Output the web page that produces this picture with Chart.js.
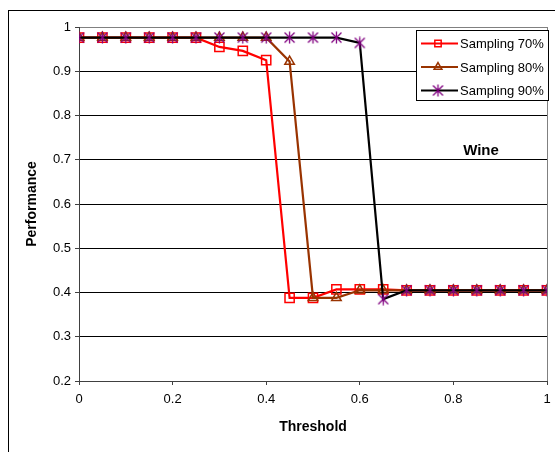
<!DOCTYPE html>
<html>
<head>
<meta charset="utf-8">
<script src="https://cdn.jsdelivr.net/npm/chart.js@4/dist/chart.umd.min.js"></script>
<style>
  html, body { margin: 0; padding: 0; background: #fff; }
  #wrap { width: 555px; height: 452px; position: relative; }
</style>
</head>
<body>
<div id="wrap"><canvas id="perfChart" width="555" height="452"></canvas></div>
<script>
// Data
const thresholds = [0, 0.05, 0.1, 0.15, 0.2, 0.25, 0.3, 0.35, 0.4, 0.45, 0.5,
                    0.55, 0.6, 0.65, 0.7, 0.75, 0.8, 0.85, 0.9, 0.95, 1];
const sampling70 = [0.976, 0.976, 0.976, 0.976, 0.976, 0.976, 0.955, 0.946, 0.925, 0.388, 0.388,
                    0.407, 0.407, 0.407, 0.405, 0.405, 0.405, 0.405, 0.405, 0.405, 0.405];
const sampling80 = [0.976, 0.976, 0.976, 0.976, 0.976, 0.976, 0.976, 0.976, 0.976, 0.922, 0.388,
                    0.388, 0.405, 0.405, 0.405, 0.405, 0.405, 0.405, 0.405, 0.405, 0.405];
const sampling90 = [0.976, 0.976, 0.976, 0.976, 0.976, 0.976, 0.976, 0.976, 0.976, 0.976, 0.976,
                    0.976, 0.964, 0.385, 0.405, 0.405, 0.405, 0.405, 0.405, 0.405, 0.405];
const seriesNames = ['Sampling 70%', 'Sampling 80%', 'Sampling 90%'];
const xTicks = [0, 0.2, 0.4, 0.6, 0.8, 1];
const yTicks = [0.2, 0.3, 0.4, 0.5, 0.6, 0.7, 0.8, 0.9, 1];

const FONT = '"Liberation Sans", Arial, sans-serif';

// Excel-like asterisk marker (X plus vertical stroke)
function makeAsterisk(color) {
    const c = document.createElement('canvas');
    c.width = 13; c.height = 13;
    const g = c.getContext('2d');
    g.strokeStyle = color;
    g.lineWidth = 1.3;
    g.beginPath();
    g.moveTo(1.5, 1.5); g.lineTo(11.5, 11.5);
    g.moveTo(11.5, 1.5); g.lineTo(1.5, 11.5);
    g.moveTo(6.5, 0.5); g.lineTo(6.5, 12.5);
    g.stroke();
    return c;
}
const asterisk = makeAsterisk('#800080');

function toPoints(values) {
    return thresholds.map((t, i) => ({ x: t, y: values[i] }));
}

const seriesStyles = [
    { line: '#ff0000', marker: '#ff0000', style: 'rect', radius: 6.5, order: 3 },
    { line: '#993300', marker: '#993300', style: 'triangle', radius: 5.5, order: 2 },
    { line: '#000000', marker: '#800080', style: asterisk, radius: 6, order: 1 }
];
const seriesValues = [sampling70, sampling80, sampling90];

const datasets = seriesValues.map((vals, i) => ({
    label: seriesNames[i],
    data: toPoints(vals),
    borderColor: seriesStyles[i].line,
    backgroundColor: 'rgba(0,0,0,0)',
    borderWidth: 2.2,
    pointStyle: seriesStyles[i].style,
    pointRadius: seriesStyles[i].radius,
    pointBorderColor: seriesStyles[i].marker,
    pointBackgroundColor: 'rgba(0,0,0,0)',
    pointBorderWidth: 1.5,
    order: seriesStyles[i].order,
    tension: 0
}));

// Frame, legend box and "Wine" label
const decorations = {
    id: 'decorations',
    beforeDraw(chart) {
        const ctx = chart.ctx;
        ctx.save();
        ctx.fillStyle = '#fff';
        ctx.fillRect(0, 0, chart.width, chart.height);
        ctx.strokeStyle = '#000';
        ctx.lineWidth = 1;
        ctx.strokeRect(8.5, 10.5, 600, 500);
        ctx.restore();
    },
    afterDraw(chart) {
        const ctx = chart.ctx;
        ctx.save();
        // legend
        const lx = 416, ly = 30, lw = 132, lh = 70;
        ctx.fillStyle = '#fff';
        ctx.fillRect(lx, ly, lw, lh);
        ctx.strokeStyle = '#000';
        ctx.lineWidth = 1;
        ctx.strokeRect(lx + 0.5, ly + 0.5, lw, lh);
        ctx.font = '13px ' + FONT;
        ctx.textBaseline = 'middle';
        seriesNames.forEach((name, i) => {
            const y = ly + 13.5 + i * 23.5;
            ctx.strokeStyle = seriesStyles[i].line;
            ctx.lineWidth = 2;
            ctx.beginPath();
            ctx.moveTo(lx + 5, y);
            ctx.lineTo(lx + 42, y);
            ctx.stroke();
            ctx.strokeStyle = seriesStyles[i].marker;
            ctx.fillStyle = 'rgba(0,0,0,0)';
            ctx.lineWidth = 1.5;
            Chart.helpers.drawPoint(ctx, {
                pointStyle: seriesStyles[i].style, radius: 4.5, rotation: 0, borderWidth: 1.5
            }, lx + 22, y);
            ctx.fillStyle = '#000';
            ctx.fillText(name, lx + 44, y + 1);
        });
        // dataset label
        ctx.font = 'bold 15px ' + FONT;
        ctx.textAlign = 'center';
        ctx.fillStyle = '#000';
        ctx.fillText('Wine', 481, 151);
        ctx.restore();
    }
};

new Chart(document.getElementById('perfChart'), {
    type: 'line',
    data: { datasets: datasets },
    options: {
        responsive: false,
        animation: false,
        layout: { padding: { top: 27, right: 4, left: 0, bottom: 0 } },
        plugins: {
            legend: { display: false },
            tooltip: { enabled: false }
        },
        scales: {
            x: {
                type: 'linear',
                min: 0,
                max: 1,
                afterFit(scale) {
                    scale.height = 71;
                    scale.paddingRight = 0;
                    scale.paddingLeft = 0;
                },
                afterBuildTicks(scale) { scale.ticks = xTicks.map(v => ({ value: v })); },
                ticks: {
                    color: '#000',
                    font: { family: FONT, size: 13 },
                    padding: 7,
                    maxRotation: 0,
                    callback: v => String(v)
                },
                grid: {
                    color: ctx => (ctx.tick && ctx.tick.value === 1) ? '#808080' : 'rgba(0,0,0,0)',
                    tickColor: '#404040',
                    tickLength: 4,
                    drawOnChartArea: true
                },
                border: { color: '#404040', width: 1 },
                title: {
                    display: true,
                    text: 'Threshold',
                    color: '#000',
                    font: { family: FONT, size: 14, weight: 'bold' },
                    padding: { top: 0, bottom: 16 }
                }
            },
            y: {
                min: 0.2,
                max: 1,
                afterFit(scale) { scale.width = 79; },
                afterBuildTicks(scale) { scale.ticks = yTicks.map(v => ({ value: v })); },
                ticks: {
                    color: '#000',
                    font: { family: FONT, size: 13 },
                    padding: 4,
                    callback: v => String(Math.round(v * 10) / 10)
                },
                grid: {
                    color: ctx => (ctx.tick && ctx.tick.value === 1) ? '#808080' : '#000',
                    tickColor: '#404040',
                    tickLength: 4
                },
                border: { color: '#404040', width: 1 },
                title: {
                    display: true,
                    text: 'Performance',
                    color: '#000',
                    font: { family: FONT, size: 14, weight: 'bold' },
                    padding: { top: 24, bottom: 0 }
                }
            }
        }
    },
    plugins: [decorations]
});
</script>
</body>
</html>
